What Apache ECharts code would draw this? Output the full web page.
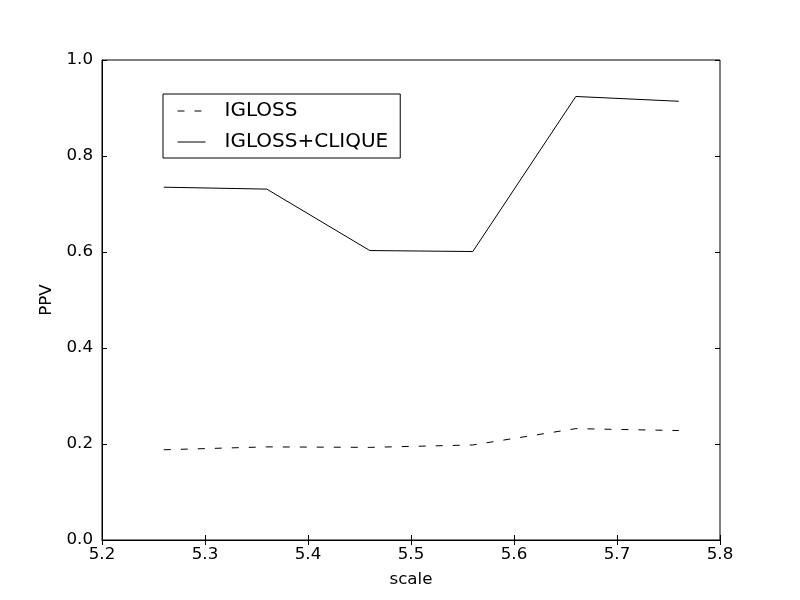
<!DOCTYPE html>
<html>
<head>
<meta charset="utf-8">
<script src="https://cdn.jsdelivr.net/npm/echarts@6/dist/echarts.min.js"></script>
<style>html,body{margin:0;padding:0;background:#fff;}#c{width:800px;height:600px;}</style>
</head>
<body>
<div id="c"></div>
<script>
var scales = [5.26, 5.36, 5.46, 5.56, 5.66, 5.76];
var igloss = [0.188, 0.194, 0.193, 0.198, 0.232, 0.228];
var iglossClique = [0.735, 0.731, 0.603, 0.601, 0.924, 0.914];
var seriesNames = ['IGLOSS', 'IGLOSS+CLIQUE'];

function pairs(xs, ys) { return xs.map(function (x, i) { return [x, ys[i]]; }); }

var font = 'DejaVu Sans';
var fs = 16.7;
var tickStyle = { show: true, inside: true, length: 5, lineStyle: { color: '#000', width: 1 } };
var chart = echarts.init(document.getElementById('c'), null, { renderer: 'canvas' });
chart.setOption({
  animation: false,
  backgroundColor: '#fff',
  textStyle: { fontFamily: font },
  grid: { left: 102, right: 80, top: 60, bottom: 60, show: true, borderColor: '#000', borderWidth: 1, backgroundColor: 'transparent' },
  legend: {
    left: 163, top: 94, orient: 'vertical',
    data: seriesNames,
    borderColor: '#000', borderWidth: 1, borderRadius: 0,
    padding: [7, 12, 6, 14],
    itemWidth: 28, itemHeight: 14, itemGap: 11,
    itemStyle: { opacity: 0 },
    lineStyle: { width: 1 },
    textStyle: { fontFamily: font, fontSize: 20, color: '#000', lineHeight: 20, padding: [0, 0, 0, 14] }
  },
  xAxis: [{
    type: 'value', min: 5.2, max: 5.8, interval: 0.1, position: 'bottom',
    name: 'scale', nameLocation: 'middle', nameGap: 31,
    nameTextStyle: { fontFamily: font, fontSize: fs, color: '#000' },
    axisLine: { show: true, lineStyle: { color: '#000' } },
    axisTick: tickStyle, splitLine: { show: false },
    axisLabel: { fontFamily: font, fontSize: fs, color: '#000', margin: 6, formatter: function (v) { return v.toFixed(1); } }
  }, {
    type: 'value', min: 5.2, max: 5.8, interval: 0.1, position: 'top',
    axisLine: { show: false }, axisTick: tickStyle, axisLabel: { show: false }, splitLine: { show: false }
  }],
  yAxis: [{
    type: 'value', min: 0, max: 1, interval: 0.2, position: 'left',
    name: 'PPV', nameLocation: 'middle', nameGap: 41,
    nameTextStyle: { fontFamily: font, fontSize: fs, color: '#000' },
    axisLine: { show: true, lineStyle: { color: '#000' } },
    axisTick: tickStyle, splitLine: { show: false },
    axisLabel: { fontFamily: font, fontSize: fs, color: '#000', margin: 9, formatter: function (v) { return v.toFixed(1); } }
  }, {
    type: 'value', min: 0, max: 1, interval: 0.2, position: 'right',
    axisLine: { show: false }, axisTick: tickStyle, axisLabel: { show: false }, splitLine: { show: false }
  }],
  series: [{
    name: seriesNames[0], type: 'line', data: pairs(scales, igloss), symbol: 'none',
    itemStyle: { color: '#000' },
    lineStyle: { color: '#000', width: 1, type: [7, 10] }
  }, {
    name: seriesNames[1], type: 'line', data: pairs(scales, iglossClique), symbol: 'none',
    itemStyle: { color: '#000' },
    lineStyle: { color: '#000', width: 1, type: 'solid' }
  }]
});
</script>
</body>
</html>
